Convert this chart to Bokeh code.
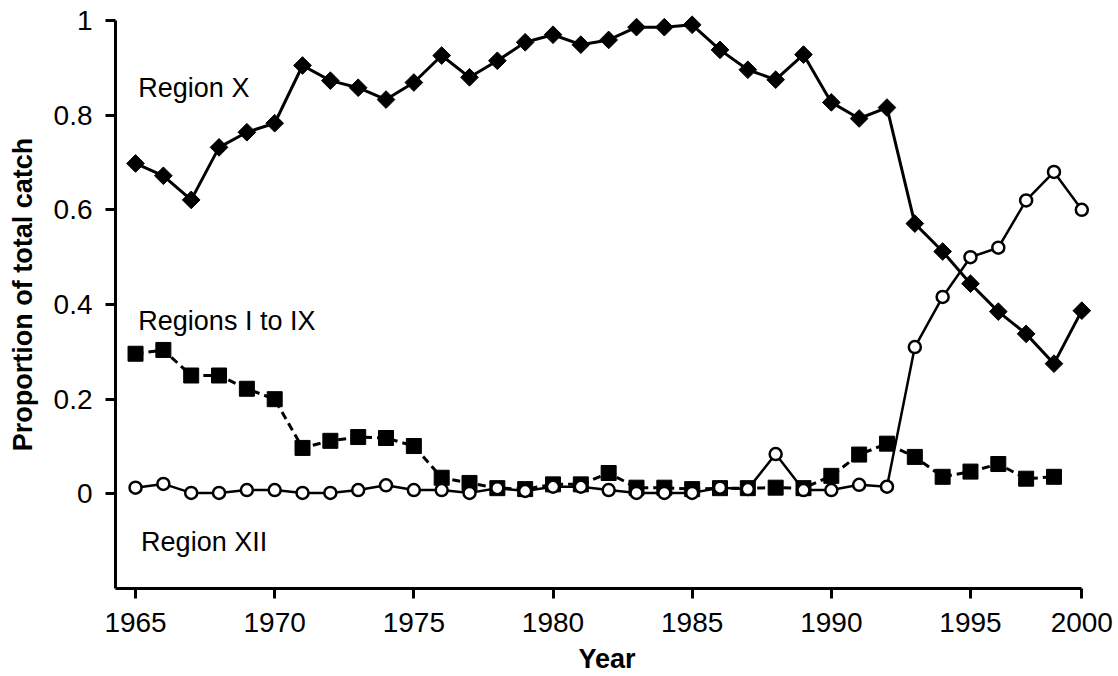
import numpy as np
from bokeh.plotting import figure
from bokeh.models import Range1d, FixedTicker, ColumnDataSource
from bokeh.core.properties import value
from bokeh.embed import file_html
from bokeh.resources import INLINE

# ---- data ----
years_all = list(range(1965, 2000))          # 1965 .. 1999
years_i_ix = list(range(1965, 1999))         # 1965 .. 1998

region_x = [0.698, 0.672, 0.621, 0.732, 0.764, 0.783, 0.905, 0.873, 0.858, 0.833,
            0.869, 0.926, 0.880, 0.915, 0.954, 0.970, 0.949, 0.959, 0.986, 0.986,
            0.991, 0.938, 0.896, 0.875, 0.928, 0.827, 0.793, 0.816, 0.571, 0.512,
            0.444, 0.385, 0.338, 0.275, 0.387]

regions_i_ix = [0.296, 0.304, 0.250, 0.250, 0.222, 0.200, 0.097, 0.112, 0.120, 0.118,
                0.101, 0.034, 0.023, 0.012, 0.010, 0.020, 0.020, 0.044, 0.013, 0.013,
                0.010, 0.012, 0.012, 0.013, 0.012, 0.038, 0.083, 0.106, 0.078, 0.036,
                0.047, 0.063, 0.032, 0.036]

region_xii = [0.013, 0.021, 0.002, 0.002, 0.008, 0.008, 0.002, 0.002, 0.008, 0.018,
              0.008, 0.008, 0.002, 0.012, 0.006, 0.015, 0.015, 0.008, 0.002, 0.002,
              0.002, 0.013, 0.010, 0.084, 0.008, 0.008, 0.019, 0.015, 0.310, 0.416,
              0.500, 0.520, 0.620, 0.680, 0.600]

x_ticks = [1965, 1970, 1975, 1980, 1985, 1990, 1995, 1999]
x_tick_labels = ["1965", "1970", "1975", "1980", "1985", "1990", "1995", "2000"]
y_ticks = [0, 0.2, 0.4, 0.6, 0.8, 1]
y_tick_labels = ["0", "0.2", "0.4", "0.6", "0.8", "1"]

label_texts = ["Region X", "Regions I to IX", "Region XII"]
label_x = [1965.1, 1965.1, 1965.2]
label_y = [0.858, 0.366, -0.101]

FONT = "Liberation Sans"

p = figure(width=1118, height=676, output_backend="svg", toolbar_location=None,
           x_range=Range1d(1964.28, 1999.6), y_range=Range1d(-0.2, 1.0423),
           min_border_left=115, min_border_right=20, min_border_top=0,
           min_border_bottom=88)
p.outline_line_color = None
p.xgrid.visible = False
p.ygrid.visible = False
p.background_fill_color = "white"
p.border_fill_color = "white"

for ax in (p.xaxis[0], p.yaxis[0]):
    ax.axis_line_width = 3
    ax.axis_line_color = "black"
    ax.major_tick_line_width = 3
    ax.major_tick_line_color = "black"
    ax.major_tick_out = 10
    ax.major_tick_in = 0
    ax.minor_tick_line_color = None
    ax.major_label_text_font = FONT
    ax.major_label_text_font_size = "28px"
    ax.major_label_text_color = "black"
    ax.axis_label_text_font = FONT
    ax.axis_label_text_font_size = "27px"
    ax.axis_label_text_font_style = "bold"
    ax.axis_label_text_color = "black"

p.xaxis[0].ticker = FixedTicker(ticks=x_ticks)
p.xaxis[0].major_label_overrides = {t: l for t, l in zip(x_ticks, x_tick_labels)}
p.xaxis[0].bounds = (1964.28, 1999)
p.xaxis[0].axis_label = "Year"
p.xaxis[0].major_label_standoff = 14
p.xaxis[0].axis_label_standoff = 9

p.yaxis[0].ticker = FixedTicker(ticks=y_ticks)
p.yaxis[0].major_label_overrides = {t: l for t, l in zip(y_ticks, y_tick_labels)}
p.yaxis[0].bounds = (-0.2, 1.0)
p.yaxis[0].axis_label = "Proportion of total catch"
p.yaxis[0].major_label_standoff = 13
p.yaxis[0].axis_label_standoff = 13

# Regions I to IX (dashed, filled squares)
p.line(years_i_ix, regions_i_ix, line_color="black", line_width=3, line_dash="8 5")
p.scatter(years_i_ix, regions_i_ix, marker="square", size=15,
          fill_color="black", line_color="black")

# Region X (solid, filled diamonds)
p.line(years_all, region_x, line_color="black", line_width=3)
p.scatter(years_all, region_x, marker="square", angle=np.pi / 4, size=12.5,
          fill_color="black", line_color="black")

# Region XII (solid, open circles)
p.line(years_all, region_xii, line_color="black", line_width=2.5)
p.scatter(years_all, region_xii, marker="circle", size=12,
          fill_color="white", line_color="black", line_width=2.5)

src = ColumnDataSource(dict(x=label_x, y=label_y, t=label_texts))
p.text(x="x", y="y", text="t", source=src, text_font=value(FONT),
       text_font_size="27px", text_color="black", text_align="left",
       text_baseline="alphabetic")

open("out.html", "w").write(file_html(p, INLINE))
